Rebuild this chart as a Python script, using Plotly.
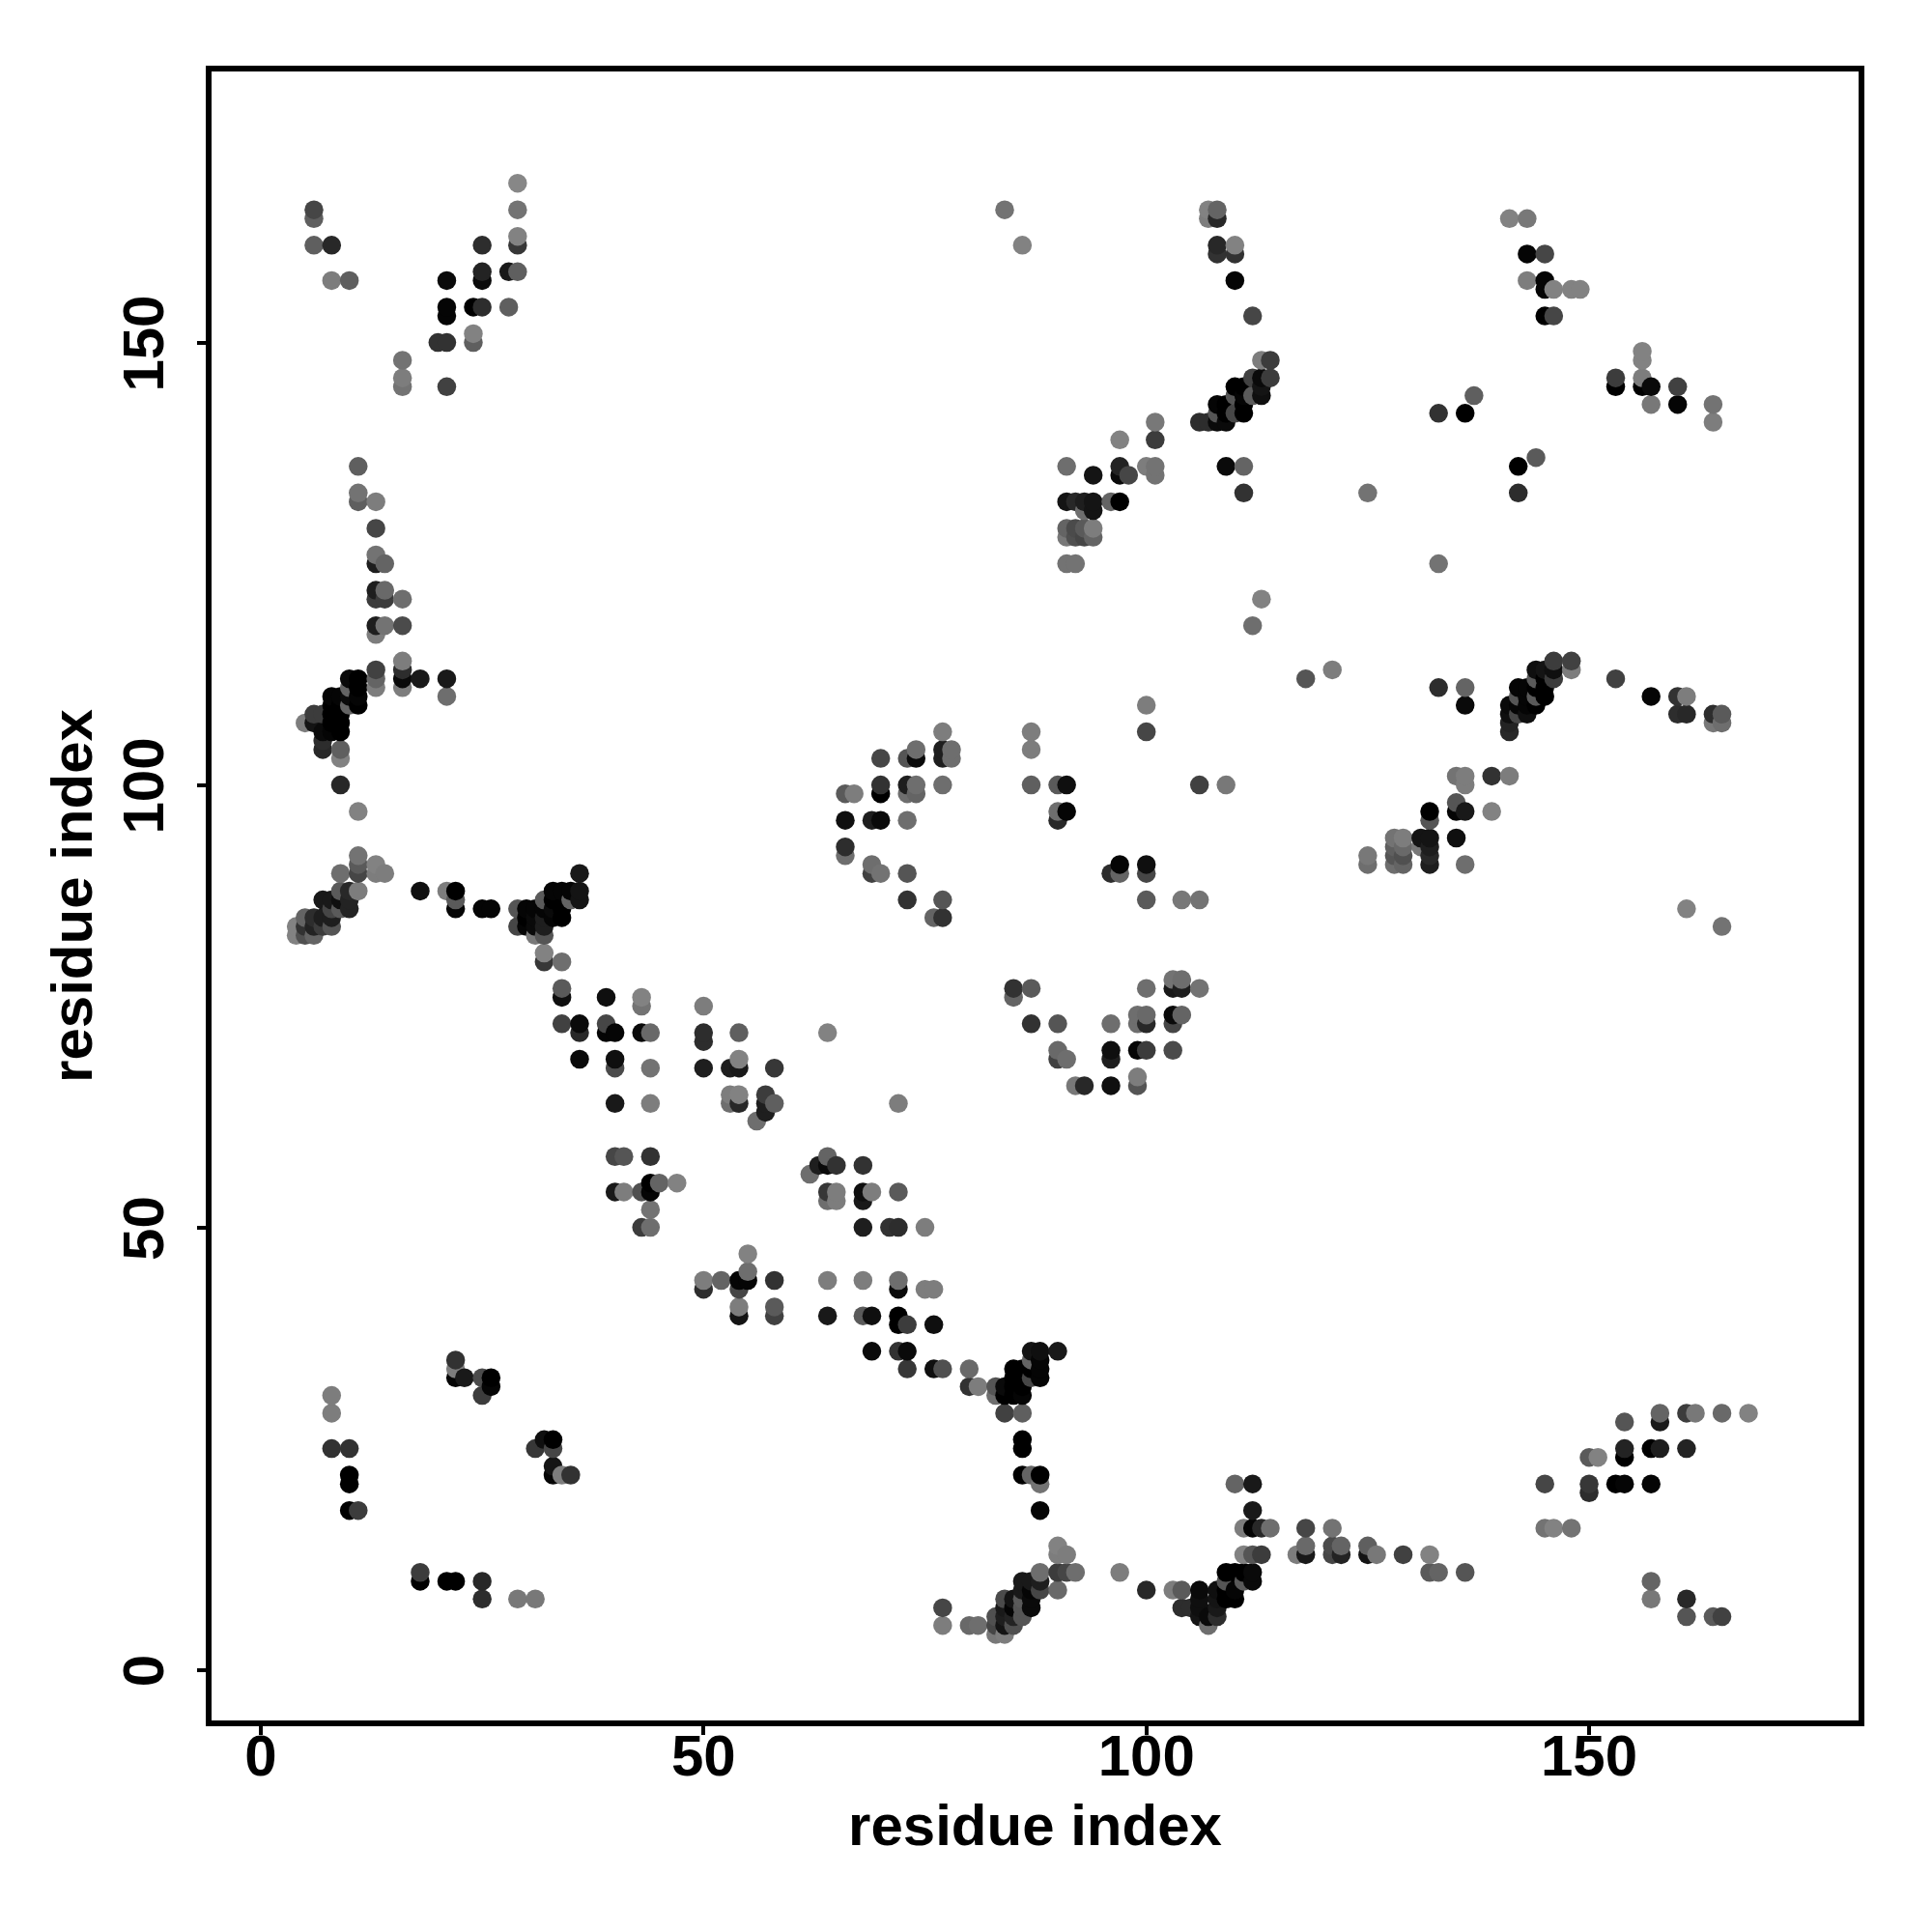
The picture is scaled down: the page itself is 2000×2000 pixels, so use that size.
import numpy as np
import plotly.graph_objects as go

tick_values = [0, 50, 100, 150]
axis_label = "residue index"

a_x = [6,6,6,8,8,10,21,21,21,20, 21,24,25,25,25,25,28,29,29,29, 29,29,28,24,24,16,16,16,21]
a_y = [165,164,161,161,157,157,157,154,153,150, 150,154,154,161,158,157,158,158,161,162, 165,168,154,151,150,148,146,145,145]
a_g = [70,95,95,40,125,95,10,5,5,50, 50,0,45,45,35,10,25,95,55,130, 115,135,95,130,95,115,125,115,65]

b_x = [11,11,11,13,13,13,13,14,13,13, 14,14,16,13,13,14,16]
b_y = [136,133,132,132,129,126,125,125,122,121, 122,121,121,118,117,118,118]
b_g = [95,115,95,125,70,115,30,100,30,60, 105,60,110,30,125,115,75]

c_x = [5,6,7,6,7,7,7, 8,8,8,8,8, 9,9,9,9,9,9,9,9, 10,10,10,10,11,11,11,11,11, 13,13,13,16,16,16,16,18,21,21]
c_y = [107,108,108,107,106,105,104, 110,109,108,107,106, 106,107,108,109,110,104,103,100, 112,111,110,109,112,111,110,109,97, 111,112,113,111,112,113,114,112,112,110]
c_g = [125,60,60,20,10,45,40, 5,0,0,0,5, 0,0,0,0,5,95,130,40, 10,100,10,100,0,0,5,0,130, 125,100,65,125,10,45,125,25,25,110]

d_x = [11,11,11,9,13,13,14,11, 10,10,10,9,9,9,7,8,8,8,8, 4,4,5,5,5,6,6,6,7,7]
d_y = [92,91,90,90,91,90,90,88, 88,87,86,88,87,86,87,87,86,85,84, 84,83,85,84,83,85,84,83,85,84]
d_g = [115,90,70,110,130,125,125,125, 40,35,35,90,15,90,25,25,70,30,85, 130,130,100,50,80,45,35,100,30,60]

e_x = [18,21,22,22,22,25,26,29,29]
e_y = [88,88,88,87,86,86,86,86,84]
e_g = [15,125,0,90,5,5,5,85,70]

f_x = [33,34,35,36,36,32,33,35,36, 30,31,32,33,34,30,31,32,33,34, 30,31,32,31,32,32,32,34]
f_y = [88,88,88,88,90,87,87,87,87, 86,86,86,86,86,85,85,85,85,85, 84,84,84,83,83,81,80,80]
f_g = [5,5,5,20,25,90,0,100,20, 5,5,5,10,0,0,10,30,5,0, 5,10,30,120,85,130,55,110]

g_x = [34,34,39,43,43,50,34,36,36,39, 39,40,43,44,50,50,54,50,53,54, 54,58,53,53,54,54,57,57,57,58, 56,64,72,36,40,40,44,40,44]
g_y = [77,76,76,76,75,75,73,73,72,73, 72,72,72,72,72,71,72,68,68,69, 68,68,65,64,65,64,65,64,63,64, 62,72,64,69,69,68,68,64,64]
g_g = [90,15,15,130,115,125,65,10,40,70, 5,5,10,105,45,45,95,30,30,130, 25,55,125,110,130,40,60,30,30,95, 110,130,125,10,15,75,115,25,125]

h_x = [40,41,44,40,41,43,44,44,45,47, 44,43,44]
h_y = [58,58,58,54,54,54,55,54,55,55, 52,50,50]
h_g = [70,85,50,25,125,80,0,5,100,130, 115,60,110]

i_x = [64,63,64,65,62,68,64,64,65,65, 68,68,69,72,68,71,72,75]
i_y = [58,57,57,57,56,57,54,53,54,53, 54,53,54,54,50,50,50,50]
i_g = [100,30,10,50,110,50,55,110,125,125, 15,25,125,90,30,50,45,125]

j_x = [50,50,52,54,54,55,55,55,58, 64,68,72,72,75,76,54,54,58,58, 64,68,69,72,72,73,76,69,72,73, 73,76,77,80,80,81]
j_y = [44,43,44,44,43,45,47,44,44, 44,44,44,43,43,43,41,40,41,40, 40,40,40,40,39,39,39,36,36,36, 34,34,34,34,32,32]
j_g = [125,45,100,5,70,110,130,5,50, 125,125,110,10,125,125,125,20,90,65, 25,90,15,0,0,60,15,10,50,10, 55,15,80,105,50,125]

k_x = [83,83,84,87,88,90, 88,88,87,88,85,86,85,86,87,87, 85,86,84,85,86,84,86, 86,86,86,87,88,88,88]
k_y = [32,31,32,36,36,36, 34,33,35,35,34,34,33,33,34,33, 32,32,31,31,31,29,29, 26,25,22,22,22,21,18]
k_g = [85,110,10,20,15,25, 5,5,100,5,0,0,0,0,0,70, 0,0,0,0,5,65,95, 0,0,0,100,0,115,5]

l_x = [90,90,91,88,90,91,92,97,100,90, 86,87,88,88,87,86,84,85,86,87, 87,86,85,84,83,83,83,84,84,85, 84,85,86,77,77,80,81]
l_y = [14,13,13,11,11,11,11,11,9,9, 10,10,10,9,9,9,8,8,8,8, 7,7,7,7,6,5,4,4,5,5, 6,6,6,7,5,5,5]
l_g = [130,125,125,110,60,70,110,125,40,105, 25,25,30,70,5,25,75,20,90,10, 10,85,5,25,80,70,120,125,20,80, 30,35,85,70,125,105,110]

m_x = [103,104,104,105,106,106,106,106,107,107, 108,108,108,108,109,109,109,109,110,110, 110,111,111,112,112, 110,112,112,111,112,113,114,111,112,113, 117,118,118,121,118,121,121,122,122,125,125,126]
m_y = [9,9,7,7,9,8,7,6,6,5, 9,8,7,6,11,10,9,8,11,9, 8,10,11,11,10, 21,21,18,16,16,16,16,13,13,13, 13,14,13,16,16,14,13,14,13,14,13,13]
m_g = [125,90,45,45,10,15,15,20,10,110, 15,20,25,45,0,85,0,0,0,5, 0,90,0,10,10, 100,25,25,125,5,40,110,130,85,60, 125,105,25,115,70,75,70,100,35,95,20,120]

n_x = [129,132,132,133,136, 145,145,146,148,150,151,150,150,153,154, 157,154,154,154,157,158,158,158,161,161, 162,165,168,157,157,161,161,164,165]
n_y = [13,13,11,11,11, 21,16,16,16,24,24,21,20,21,21, 21,25,24,28,25,25,28,29,25,29, 29,29,29,10,8,8,6,6,6]
n_g = [65,130,90,100,85, 70,115,130,115,90,130,55,45,0,5, 5,35,0,85,0,30,25,100,35,60, 120,105,130,100,120,40,85,90,65]

o_x = [8,8,8,10,10,10,10,11,18,18, 21,22,25,25,29,31, 22,22,22,23,25,25,26,26, 31,32,33,33,33,33,34,35]
o_y = [31,29,25,25,22,21,18,18,11,10, 10,10,10,8,8,8, 33,34,35,33,33,31,33,32, 25,26,26,25,23,22,22,22]
o_g = [125,125,50,50,0,0,0,60,60,0, 0,0,40,45,120,120, 5,125,50,25,75,60,0,5, 55,15,0,70,20,5,125,50]

p_x = [100,100,77,77,77,78,78,74,74,73, 70,66,67,70,70,73,73,74,74,77, 66,69,70,73,66,66,69,69,70,73, 73,77,76,77]
p_y = [109,106,106,104,103,104,103,104,103,103, 103,99,99,100,99,100,99,100,99,100, 96,96,96,96,93,92,91,90,90,90, 87,87,85,85]
p_g = [125,70,125,30,30,110,110,110,10,85, 70,90,125,50,0,30,110,110,100,110, 15,30,10,110,45,110,110,65,115,85, 50,85,100,50]

q_x = [87,87,87,90,91,90,90,91, 106,109,96,97,97,100,100,100,104,106]
q_y = [106,104,100,100,100,97,96,97, 100,100,90,91,90,91,90,87,87,87]
q_g = [125,125,95,90,15,110,40,5, 65,120,45,5,100,15,70,90,120,115]

r_x = [85,85,87,87,90,96,99,99,100,100, 103,103,104,104,106,103,103,104,100, 90,90,91,96,96,99,100,103,92,93, 96,99,99]
r_y = [77,76,77,73,73,73,74,73,74,73, 78,77,78,77,77,74,73,74,77, 70,69,69,70,69,70,70,70,66,66, 66,67,66]
r_g = [50,100,90,50,85,110,110,110,105,40, 115,25,110,30,115,10,70,100,110, 105,65,110,15,30,5,60,75,120,40, 15,125,85]

s_x = [84,86,107,107,108,108,108,108,110,110, 110,112,113,114, 112,113,114,110,111,113,113,112,111,111, 110,108,109,111,110,108,109, 106,107,108,109,101,101,97]
s_y = [165,161,165,164,164,165,161,160,161,160, 157,153,148,148, 146,146,146,145,145,145,144,144,144,143, 144,143,143,142,142,142,142, 141,141,141,141,141,139,139]
s_g = [115,130,130,125,40,100,40,50,130,50, 5,70,125,60, 65,10,60,0,0,20,15,90,5,0, 85,5,0,0,70,85,0, 45,45,10,10,120,60,130]

u_x = [91,94,97,97,98,100,101,101,109,111,111,125,133,133, 91,92,93,94,94,93,96,97, 91,91,92,92,93,93,94,94,91,92,113,112]
u_y = [136,135,136,135,135,136,136,135,136,136,133,133,142,125, 132,132,132,132,131,131,132,132, 129,128,129,128,129,128,129,128,125,125,121,118]
u_g = [110,20,35,10,70,125,115,115,10,100,50,115,50,115, 20,40,30,20,20,110,100,0, 100,120,75,80,90,70,125,100,115,115,130,110]

t_x = [141,143,143,145,143,145,145,146,148,149, 145,146,156,156,156,156,153,153,157,157, 160,160,164,164,137,136,142,144,142]
t_y = [164,164,160,160,157,157,156,156,156,156, 153,153,149,148,146,145,146,145,145,143, 145,143,143,141,144,142,136,137,133]
t_g = [130,120,5,70,125,5,5,130,130,130, 0,70,130,130,125,0,60,0,10,120, 65,5,115,125,95,0,0,90,45]

v_x = [118,121,133,136,136, 141,141,141,141,142,142,142,142,143,143, 143,143,144,144,144,144,144,145,145,145, 145,146,146,146,148,148]
v_y = [112,113,111,111,109, 109,108,107,106,111,110,109,108,111,110, 109,108,113,112,111,110,109,113,112,111, 110,114,113,112,114,113]
v_g = [85,125,45,100,10, 10,15,35,40,5,85,5,70,5,5, 5,15,15,90,0,90,0,20,0,0, 0,60,15,60,65,125]

w_x = [153,157,160,161,160,161,164,164,165,165, 135,136,136,139,141,135,135,136,139,132, 132,135,125,125, 128,128,128,128,129,129,129,129, 131,131,132,132,132,132,136,161,165]
w_y = [112,110,110,110,108,108,108,107,108,107, 101,101,100,101,101,98,97,97,97,97, 96,94,92,91, 94,93,92,91,94,93,92,91, 94,93,94,93,92,91,91,86,84]
w_g = [65,5,50,125,45,40,45,120,90,110, 115,125,125,50,125,85,5,25,130,0, 85,15,120,110, 115,95,85,110,125,105,80,100, 20,120,20,30,40,30,110,130,115]

groups = [(a_x,a_y,a_g),(b_x,b_y,b_g),(c_x,c_y,c_g),(d_x,d_y,d_g),(e_x,e_y,e_g),(f_x,f_y,f_g),
          (g_x,g_y,g_g),(h_x,h_y,h_g),(i_x,i_y,i_g),(j_x,j_y,j_g),(k_x,k_y,k_g),(l_x,l_y,l_g),
          (m_x,m_y,m_g),(n_x,n_y,n_g),(o_x,o_y,o_g),(p_x,p_y,p_g),(q_x,q_y,q_g),(r_x,r_y,r_g),
          (s_x,s_y,s_g),(u_x,u_y,u_g),(t_x,t_y,t_g),(v_x,v_y,v_g),(w_x,w_y,w_g)]
for idx, (gx, gy, gg) in enumerate(groups):
    assert len(gx) == len(gy) == len(gg), (idx, len(gx), len(gy), len(gg))

residue_x = [v for t in groups for v in t[0]]
residue_y = [v for t in groups for v in t[1]]
gray_level = [v for t in groups for v in t[2]]

# later residues are painted over earlier ones
order = np.lexsort((residue_y, residue_x))
xs = [residue_x[i] for i in order]
ys = [residue_y[i] for i in order]
cols = [f"rgb({gray_level[i]},{gray_level[i]},{gray_level[i]})" for i in order]

fig = go.Figure(go.Scatter(x=xs, y=ys, mode="markers",
                           marker=dict(size=19.5, color=cols, line=dict(width=0))))
FONT = dict(family="Liberation Sans", size=60, color="black", weight="bold")
common = dict(tickvals=tick_values, ticktext=[str(v) for v in tick_values],
              showgrid=False, zeroline=False, showline=True, mirror=True,
              linecolor="black", linewidth=6, ticks="outside", ticklen=9,
              tickwidth=4, tickcolor="black", tickfont=FONT)
fig.update_layout(
    width=2000, height=2000, paper_bgcolor="white", plot_bgcolor="white",
    showlegend=False,
    margin=dict(l=211, r=84, t=66, b=227, autoexpand=False),
    xaxis=dict(range=[-5.56, 180.43], ticklabelstandoff=-30,
               title=dict(text=axis_label, font=FONT, standoff=20), **common),
    yaxis=dict(range=[-5.73, 180.63], tickangle=-90, ticklabelstandoff=11,
               ticklabelshift=10,
               title=dict(text=axis_label, font=FONT, standoff=2), **common),
)
fig.write_html("out.html")
